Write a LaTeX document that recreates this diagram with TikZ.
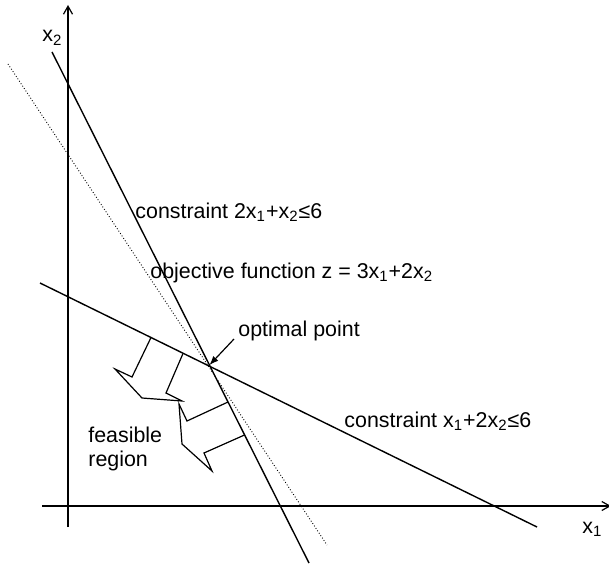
\documentclass[tikz,border=0pt]{standalone}
\usepackage{fontspec}
\setmainfont{Liberation Sans}
\usetikzlibrary{arrows.meta}
\begin{document}
\begin{tikzpicture}[x=0.5pt,y=-0.5pt,
  axis/.style={line width=0.6pt,-{Straight Barb[length=4pt,width=4.5pt]}},
  cline/.style={line width=0.7pt},
  objline/.style={line width=0.45pt,densely dotted},
  blockarrow/.style={line width=0.6pt,line join=miter},
  lbl/.style={anchor=base west,inner sep=0pt,font=\fontsize{10.7}{12}\selectfont},
  ptr/.style={line width=0.6pt,-{Latex[length=4.5pt,width=3.5pt]}}]
\useasboundingbox (0,0) rectangle (609,567);
% axes
\coordinate (ybot) at (68,527);
\coordinate (ytop) at (68,5);
\coordinate (xleft) at (42,506);
\coordinate (xright) at (611,506);
\draw[axis] (ybot) -- (ytop);
\draw[axis] (xleft) -- (xright);
% constraint lines and objective
\coordinate (aTop) at (52,52);
\coordinate (aBot) at (309,563);
\coordinate (bLeft) at (40,283);
\coordinate (bRight) at (537,527);
\coordinate (oTop) at (8,64);
\coordinate (oBot) at (327,545);
\draw[cline] (aTop) -- (aBot);
\draw[cline] (bLeft) -- (bRight);
\draw[objline] (oTop) -- (oBot);
\coordinate (opt) at (209.5,365);
% block arrows towards feasible region
\coordinate (p1) at (151,337.5);
\coordinate (p2) at (132,377);
\coordinate (p3) at (115,369);
\coordinate (p4) at (142,398);
\coordinate (p5) at (182,401);
\coordinate (p6) at (166,393);
\coordinate (p7) at (183,353.5);
\draw[blockarrow] (p1) -- (p2) -- (p3) -- (p4) -- (p5) -- (p6) -- (p7);
\coordinate (q1) at (228,402);
\coordinate (q2) at (187,421);
\coordinate (q3) at (179,404);
\coordinate (q4) at (182,444);
\coordinate (q5) at (212,471);
\coordinate (q6) at (204,453);
\coordinate (q7) at (244.5,435);
\draw[blockarrow] (q1) -- (q2) -- (q3) -- (q4) -- (q5) -- (q6) -- (q7);
% labels
\node[lbl] (lx2) at (42,42) {x\textsubscript{2}};
\node[lbl] (lx1) at (582,533) {x\textsubscript{1}};
\node[lbl] (lc1) at (135,218) {constraint 2x\textsubscript{1}+x\textsubscript{2}≤6};
\node[lbl] (lobj) at (150,278) {objective function z = 3x\textsubscript{1}+2x\textsubscript{2}};
\node[lbl] (lopt) at (238,336) {optimal point};
\node[lbl] (lc2) at (344,427) {constraint x\textsubscript{1}+2x\textsubscript{2}≤6};
\node[lbl,align=left,anchor=north west] (lfeas) at (88,427) {feasible\\region};
\coordinate (ptrStart) at (234,339);
\draw[ptr] (ptrStart) -- (opt);
\end{tikzpicture}
\end{document}
